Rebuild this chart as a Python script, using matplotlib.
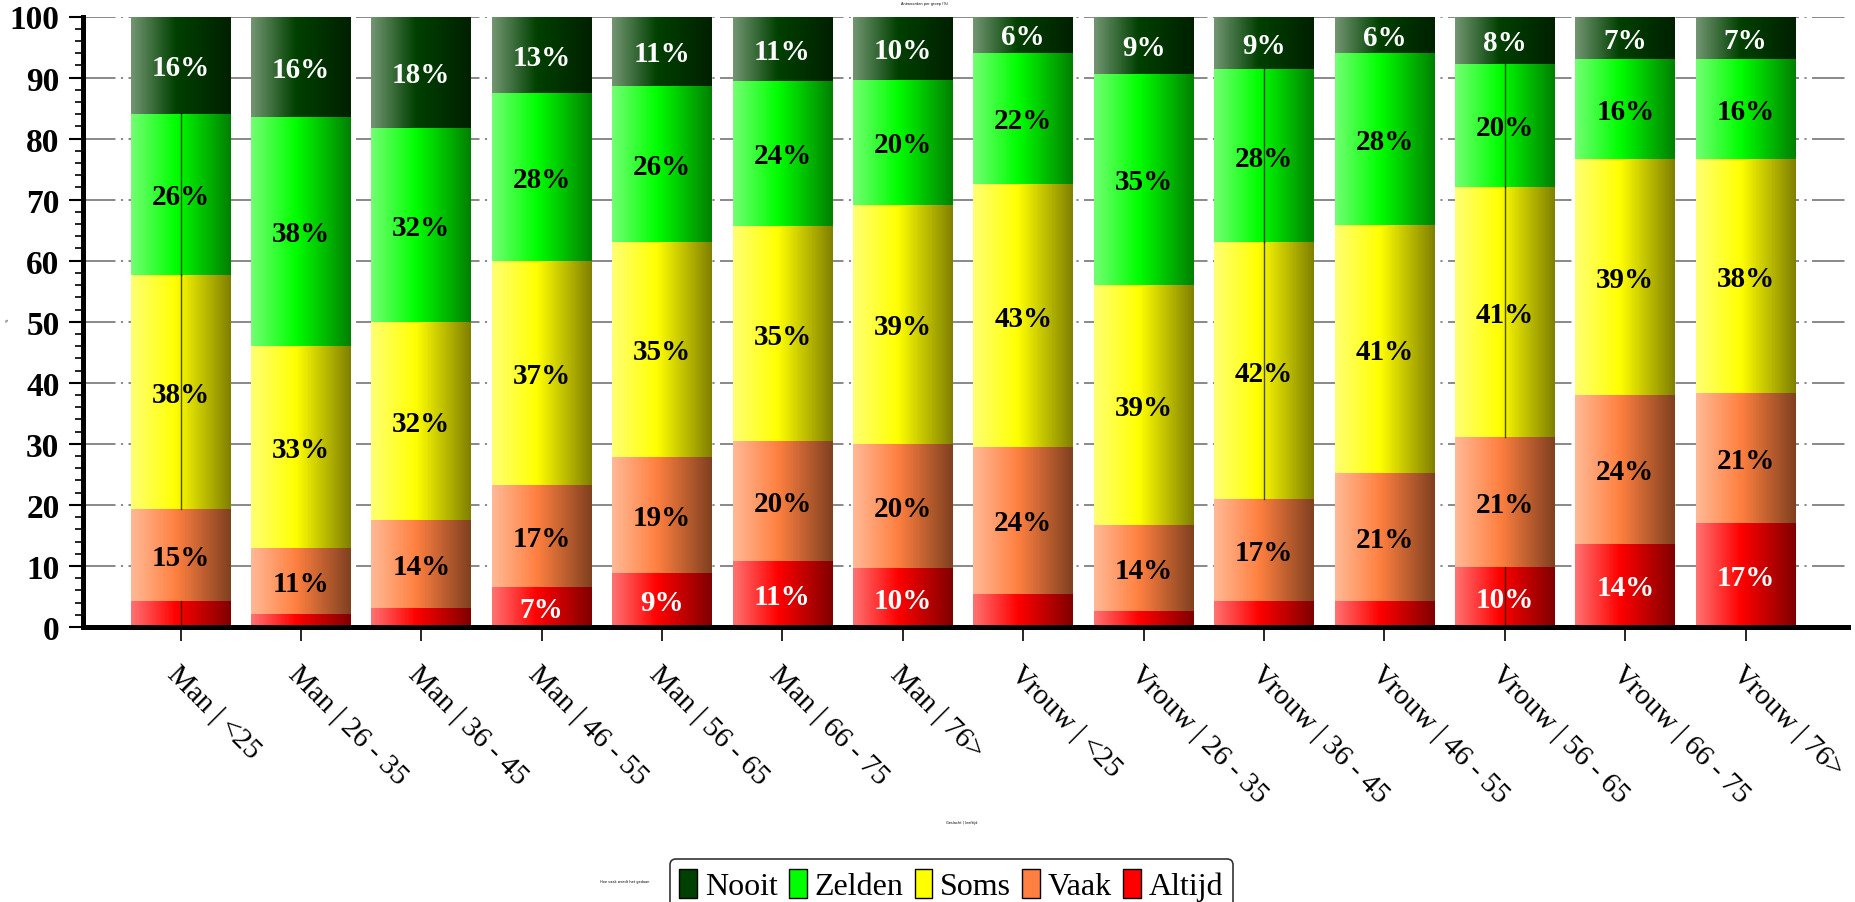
import numpy as np
import matplotlib
matplotlib.use("Agg")
import matplotlib.pyplot as plt
from matplotlib.patches import Patch

# ---------------- data ----------------
categories = ["Man | <25", "Man | 26 - 35", "Man | 36 - 45", "Man | 46 - 55",
              "Man | 56 - 65", "Man | 66 - 75", "Man | 76>",
              "Vrouw | <25", "Vrouw | 26 - 35", "Vrouw | 36 - 45", "Vrouw | 46 - 55",
              "Vrouw | 56 - 65", "Vrouw | 66 - 75", "Vrouw | 76>"]
altijd = [4.3, 2.1, 3.1, 6.6, 8.8, 10.8, 9.6, 5.4, 2.7, 4.3, 4.3, 9.8, 13.6, 17.1]
vaak   = [15.1, 10.8, 14.4, 16.7, 19.1, 19.6, 20.4, 24.1, 14.0, 16.7, 20.9, 21.4, 24.4, 21.3]
soms   = [38.3, 33.1, 32.4, 36.6, 35.1, 35.3, 39.2, 43.0, 39.3, 42.0, 40.7, 40.9, 38.7, 38.3]
zelden = [26.4, 37.6, 31.9, 27.5, 25.6, 23.7, 20.4, 21.6, 34.6, 28.4, 28.1, 20.1, 16.3, 16.4]
nooit  = [15.9, 16.4, 18.2, 12.6, 11.4, 10.6, 10.4, 5.9, 9.4, 8.6, 6.0, 7.8, 7.0, 6.9]
series_names = ["Altijd", "Vaak", "Soms", "Zelden", "Nooit"]
series_vals = [altijd, vaak, soms, zelden, nooit]
series_colors = [(255, 0, 0), (255, 128, 64), (255, 255, 0), (0, 255, 0), (0, 64, 0)]
label_colors = ["white", "black", "black", "black", "white"]
yticks = list(range(0, 101, 10))
# bars showing a thin centre line (rendering artefact in the original)
line_bars = [0, 9, 11]
line_series = [[0, 2, 3], [2, 3], [0, 2, 3]]

# ---------------- figure ----------------
W, H = 1856, 903
fig = plt.figure(figsize=(W / 100, H / 100), dpi=100)
ax = fig.add_axes([83 / W, 1 - 628 / H, (1848 - 83) / W, (628 - 17.5) / H])

serif = ["Liberation Serif", "DejaVu Serif"]

x = np.arange(len(categories))
bar_w = 0.83
bottom = np.zeros(len(categories))
all_patches = []
for vals, name, col in zip(series_vals, series_names, series_colors):
    bars = ax.bar(x, vals, width=bar_w, bottom=bottom, color="none",
                  edgecolor="none", zorder=2, label=name)
    all_patches.append(bars.patches)
    bottom = bottom + np.array(vals)


def gradient(col, n=256):
    base = np.array(col, float) / 255.0
    light = base + (1 - base) * 0.45
    dark = base * 0.5
    t = np.linspace(0, 1, n)
    out = np.zeros((1, n, 3))
    for i, tt in enumerate(t):
        if tt < 0.45:
            f = tt / 0.45
            out[0, i] = light + (base - light) * f
        else:
            f = (tt - 0.45) / 0.55
            out[0, i] = base + (dark - base) * f
    return out


for si, (patches, col) in enumerate(zip(all_patches, series_colors)):
    img = gradient(col)
    for p in patches:
        x0, y0, w, h = p.get_x(), p.get_y(), p.get_width(), p.get_height()
        ax.imshow(img, extent=(x0, x0 + w, y0, y0 + h), aspect="auto",
                  interpolation="bilinear", zorder=2)

# thin centre lines
for bi, sl in zip(line_bars, line_series):
    for si in sl:
        p = all_patches[si][bi]
        cx = p.get_x() + p.get_width() / 2
        ax.plot([cx, cx], [p.get_y(), p.get_y() + p.get_height()],
                color=(0.1, 0.1, 0.0), alpha=0.75, lw=1.0, zorder=3)

# value labels
for si, (patches, vals) in enumerate(zip(all_patches, series_vals)):
    for p, v in zip(patches, vals):
        r = int(round(v))
        if r < 6:
            continue
        ax.text(p.get_x() + p.get_width() / 2, p.get_y() + p.get_height() / 2 - 0.4,
                f"{r}%", ha="center", va="center", fontsize=21,
                fontweight="bold", family=serif, color=label_colors[si], zorder=4)

ax.set_xlim(-0.81, 13.85)
ax.set_ylim(0, 100)

# grid
ax.set_yticks(yticks)
ax.set_yticks(np.arange(0, 101, 2), minor=True)
ax.yaxis.grid(True, which="major", color="#808080", lw=1.3,
              linestyle=(0, (18, 3, 1.2, 3)), zorder=0)
ax.set_axisbelow(True)

for s in ["top", "right"]:
    ax.spines[s].set_visible(False)
ax.spines["left"].set_linewidth(3.6)
ax.spines["bottom"].set_linewidth(3.6)

ax.tick_params(axis="y", which="major", length=10, width=1.5, pad=7)
ax.tick_params(axis="y", which="minor", length=6, width=1.2)
ax.tick_params(axis="x", which="major", length=10, width=1.2, pad=14)
ax.set_yticklabels([str(t) for t in yticks], fontsize=24, fontweight="bold",
                   family=serif)
ax.set_xticks(x)
ax.set_xticklabels(categories, rotation=-45, ha="left", va="top",
                   rotation_mode="anchor", fontsize=21, family=serif)

# tiny texts (unreadable in the original)
fig.text(925 / W, 1 - 4 / H, "Antwoorden per groep (%)", fontsize=2.5,
         ha="center", va="center")
fig.text(962 / W, 1 - 823 / H, "Geslacht | leeftijd", fontsize=2.5,
         ha="center", va="center")
fig.text(625 / W, 1 - 882 / H, "Hoe vaak wordt het gedaan", fontsize=2.5,
         ha="center", va="center")
fig.text(8 / W, 1 - 320 / H, "%", fontsize=2.5, ha="center", va="center",
         rotation=90)

# legend
order = [4, 3, 2, 1, 0]
handles = [Patch(facecolor=np.array(series_colors[i]) / 255.0, edgecolor="black",
                 linewidth=1.0) for i in order]
labels = [series_names[i] for i in order]
leg = fig.legend(handles, labels, loc="upper center",
                 bbox_to_anchor=(951.5 / W, 1 - 860 / H), ncol=5,
                 prop={"family": serif, "size": 23}, frameon=True, fancybox=True,
                 edgecolor="black", handlelength=0.55, handleheight=1.05,
                 handletextpad=0.25, columnspacing=0.35, borderpad=0.3,
                 borderaxespad=0)
leg.get_frame().set_linewidth(1.2)

fig.savefig("out.png", dpi=100)
